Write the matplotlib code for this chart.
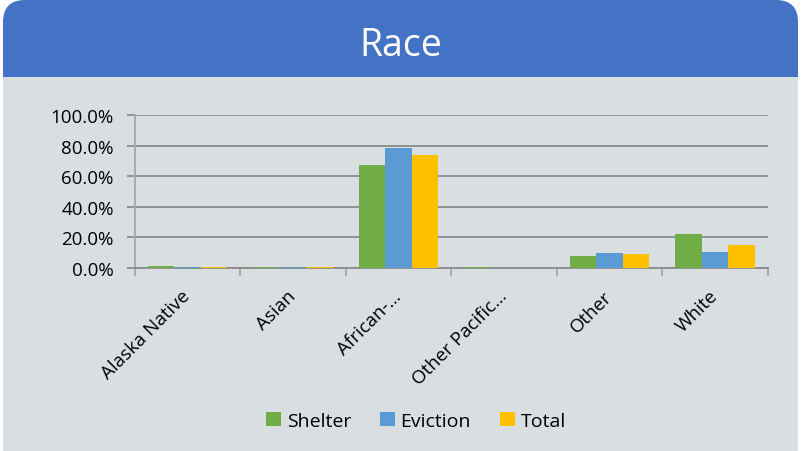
import matplotlib.pyplot as plt
import numpy as np
from matplotlib.patches import FancyBboxPatch, Rectangle
from matplotlib.ticker import PercentFormatter

plt.rcParams['font.family'] = ['Open Sans', 'DejaVu Sans']

categories = ['Alaska Native', 'Asian', 'African-\u2026', 'Other Pacific\u2026', 'Other', 'White']
shelter = [1.3, 0.5, 67.3, 0.5, 8.0, 22.2]
eviction = [0.6, 0.7, 78.6, 0.0, 9.6, 10.3]
total = [0.7, 0.6, 73.9, 0.0, 8.9, 15.2]

series_names = ['Shelter', 'Eviction', 'Total']
colors = ['#70AD47', '#5B9BD5', '#FFC000']

W, H = 801, 452
fig = plt.figure(figsize=(W / 100, H / 100), dpi=100)
fig.patch.set_facecolor('white')

# background panel + header, pixel coordinates
bg = fig.add_axes([0, 0, 1, 1], zorder=0)
bg.set_xlim(0, W)
bg.set_ylim(H, 0)
bg.axis('off')
bg.add_patch(FancyBboxPatch((3 + 22, 1 + 22), 795 - 44, 100,
                            boxstyle='round,pad=22', facecolor='#4472C4', edgecolor='none'))
bg.add_patch(Rectangle((3, 78), 795, H - 78, facecolor='#D9DEE1', edgecolor='none'))
bg.text(W / 2, 46, 'Race', color='white', fontsize=27, ha='center', va='center')

left, right, top, bottom = 134.7, 767.7, 116, 269
ax = fig.add_axes([left / W, 1 - bottom / H, (right - left) / W, (bottom - top) / H], zorder=1)
ax.patch.set_alpha(0)

x = np.arange(len(categories))
bw = 0.25
for i, (vals, name, c) in enumerate(zip([shelter, eviction, total], series_names, colors)):
    ax.bar(x + (i - 1) * bw, np.array(vals) / 100, width=bw, color=c, label=name,
           edgecolor='none', zorder=3)

ax.set_xlim(-0.5, len(categories) - 0.5)
ax.set_ylim(0, 1.0)
ax.set_yticks(np.arange(0, 1.01, 0.2))
ax.yaxis.set_major_formatter(PercentFormatter(1.0, decimals=1))
ax.grid(axis='y', color='#8C8C8C', linewidth=1.3, zorder=1)
ax.set_axisbelow(True)

for s in ['top', 'right']:
    ax.spines[s].set_visible(False)
ax.spines['left'].set_color('#A6A6A6')
ax.spines['left'].set_linewidth(1.3)
ax.spines['bottom'].set_color('#8C8C8C')
ax.spines['bottom'].set_linewidth(1.3)

ax.tick_params(axis='y', length=6, color='#8C8C8C', width=1.3, labelsize=13.5, pad=9)
ax.set_xticks(np.arange(len(categories) + 1) - 0.5)
ax.set_xticklabels([])
ax.tick_params(axis='x', which='major', length=6, color='#A6A6A6', width=1.3)
ax.set_xticks(x, minor=True)
ax.set_xticklabels(categories, minor=True, rotation=45, ha='right', va='center',
                   rotation_mode='anchor', fontsize=13.5)
ax.tick_params(axis='x', which='minor', length=0, pad=18)

ax.legend(loc='center', bbox_to_anchor=(416 / W, 1 - 422 / H), bbox_transform=fig.transFigure,
          ncol=3, frameon=False, fontsize=14, handlelength=0.75, handleheight=0.75,
          handletextpad=0.3, columnspacing=1.5)

fig.savefig('out.png', dpi=100, facecolor=fig.get_facecolor())
